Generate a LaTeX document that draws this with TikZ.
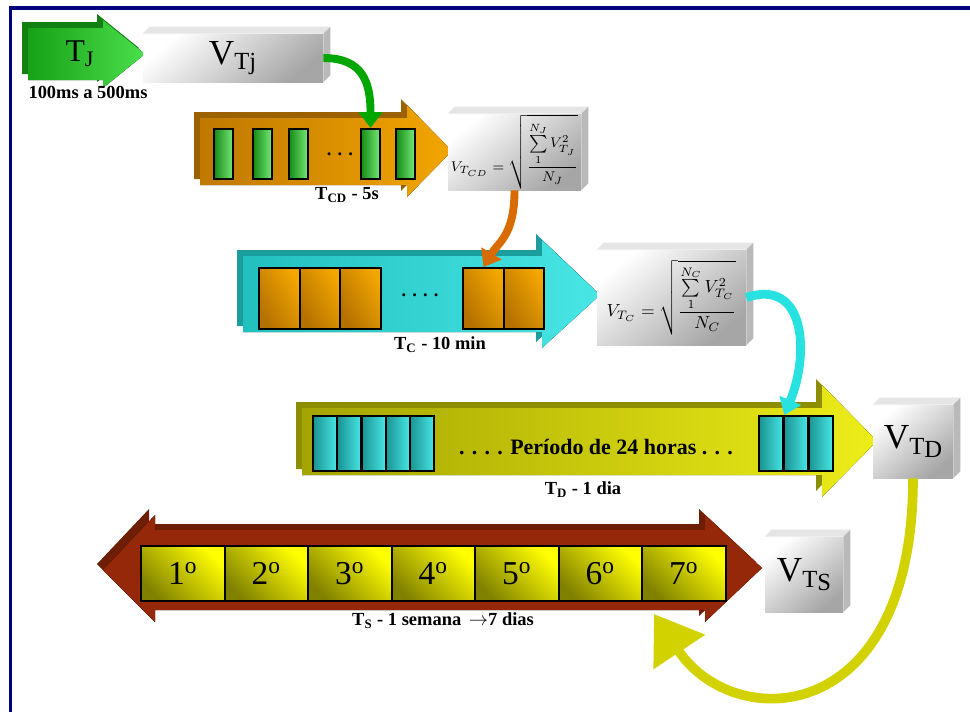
\documentclass[tikz,border=0pt]{standalone}
\usepackage{fontspec}
\setmainfont{Liberation Serif}
\usetikzlibrary{arrows.meta}

\definecolor{frameblue}{RGB}{0,0,128}
\definecolor{jgreen}{RGB}{30,215,30}
\definecolor{cdorange}{RGB}{240,150,0}
\definecolor{ccyan}{RGB}{40,225,225}
\definecolor{dyellow}{RGB}{235,235,0}
\definecolor{sred}{RGB}{185,50,10}
\definecolor{retyellow}{RGB}{210,210,0}

\begin{document}
\begin{tikzpicture}[
  x=0.2mm, y=-0.2mm,
  depth/.style={preaction={fill=#1, transform canvas={shift={(-6,-6)}}}},
  cube/.style 2 args={inner sep=0pt, minimum width=#1*0.2mm, minimum height=#2*0.2mm,
    top color=white, bottom color=gray!70, shading angle=40},
  cell/.style 2 args={draw, line width=1.2pt, inner sep=0pt, anchor=north west,
    minimum width=#1*0.2mm, minimum height=#2*0.2mm},
  tag/.style={font=\bfseries\fontsize{10.5}{12}\selectfont},
  big/.style={font=\fontsize{20}{22}\selectfont},
  flow/.style={line width=4.5pt, -{Triangle[width=13pt,length=9pt]}}
]
  \useasboundingbox (0,0) rectangle (970,711);
  \draw[frameblue, line width=1.8pt] (10.5,720) -- (10.5,8) -- (980,8);

  % time arrows
  \fill[depth=jgreen!60!black, left color=jgreen!75!black, middle color=jgreen, right color=jgreen!80!white]
    (28,28) -- (103,28) -- (103,20) -- (145,54) -- (103,88) -- (103,80) -- (28,80) -- cycle;
  \fill[depth=cdorange!65!black, left color=cdorange!80!black, middle color=cdorange, right color=cdorange!85!yellow]
    (200,118) -- (407,118) -- (407,105) -- (452,151) -- (407,197) -- (407,185) -- (200,185) -- cycle;
  \fill[depth=ccyan!70!black, left color=ccyan!85!black, middle color=ccyan, right color=ccyan!85!white]
    (243,256) -- (542,256) -- (542,240) -- (600,295) -- (542,348) -- (542,332) -- (243,332) -- cycle;
  \fill[depth=dyellow!60!black, left color=dyellow!70!black, middle color=dyellow, right color=dyellow!90!white]
    (302,408) -- (822,408) -- (822,385) -- (877,441) -- (822,497) -- (822,475) -- (302,475) -- cycle;
  \fill[depth=sred!60!black, left color=sred!80!black, middle color=sred!85!orange, right color=sred!80!black]
    (103,570) -- (155,515) -- (155,530) -- (705,530) -- (705,515) -- (762,568) -- (705,622)
    -- (705,610) -- (155,610) -- (155,622) -- cycle;

  % samples inside the arrows
  \foreach \x [count=\i] in {213,252,288,360,395}
    \node[cell={19}{50}, left color=jgreen!65!black, right color=jgreen!60!white] (g\i) at (\x,128) {};
  \foreach \x [count=\i] in {258,298.7,339.3,462,502.5}
    \node[cell={40.7}{61}, top color=cdorange!75!black, bottom color=cdorange!85!yellow, shading angle=120] (o\i) at (\x,267) {};
  \foreach \x [count=\i] in {312,336.2,360.4,384.6,408.8,758,782.7,807.4}
    \node[cell={24.2}{55}, left color=ccyan!65!black, right color=ccyan!85!white] (c\i) at (\x,415) {};
  \foreach \i in {1,...,7}
    \node[cell={83.5}{55}, top color=yellow, bottom color=dyellow!55!black, shading angle=-45,
      font=\fontsize{19}{20}\selectfont] (d\i) at (56.5+83.5*\i,545) {\i\textsuperscript{o}};

  \node[tag] at (340,154) {. . .};
  \node[tag] at (420,295) {. . . .};
  \node[font=\bfseries\fontsize{12.5}{14}\selectfont] (period) at (596,447) {. . . . Período de 24 horas . . .};

  % captions
  \node[font=\fontsize{18}{20}\selectfont] (tj) at (80,54) {T\textsubscript{J}};
  \node[tag] (tjcap) at (88,92) {100ms a 500ms};
  \node[tag] (tcdcap) at (347,195) {T\textsubscript{CD} - 5s};
  \node[tag] (tccap) at (440,345) {T\textsubscript{C} - 10 min};
  \node[tag] (tdcap) at (583,490) {T\textsubscript{D} - 1 dia};
  \node[tag] (tscap) at (443,621) {T\textsubscript{S} - 1 semana \,$\rightarrow$7 dias};

  % value boxes
  \node[cube={180}{48}, big] (vtj) at (233,58) {V\textsubscript{Tj}};
  \node[cube={133}{76}, font=\footnotesize] (vtcd) at (514.5,152)
    {$V_{T_{CD}}=\sqrt{\displaystyle\frac{\sum\limits_{1}^{N_J}V_{T_J}^{2}}{N_J}}$};
  \node[cube={149}{95}, font=\normalsize] (vtc) at (671.5,297.5)
    {$V_{T_C}=\sqrt{\displaystyle\frac{\sum\limits_{1}^{N_C}V_{T_C}^{2}}{N_C}}$};
  \node[cube={80}{73}, big] (vtd) at (913,441.5)
    {V\raisebox{-0.35ex}{\fontsize{14}{14}\selectfont T\raisebox{-0.3ex}{D}}};
  \node[cube={78}{75}, big] (vts) at (804,574.5)
    {V\raisebox{-0.35ex}{\fontsize{14}{14}\selectfont T\raisebox{-0.3ex}{S}}};
  \foreach \b in {vtj,vtcd,vtc,vtd,vts} {
    \fill[gray!20] (\b.north west) -- ++(7,-7) -- ([shift={(7,-7)}]\b.north east) -- (\b.north east) -- cycle;
    \fill[gray!55] (\b.north east) -- ++(7,-7) -- ([shift={(7,-7)}]\b.south east) -- (\b.south east) -- cycle;
  }

  % connectors
  \coordinate (ret) at (654,614);
  \draw[flow, draw=green!65!black] (vtj.east) .. controls +(40,0) and +(0,-45) .. (g4.north);
  \draw[flow, draw=orange!85!black] (vtcd.south) .. controls +(0,45) and +(15,-25) .. (o4.north);
  \draw[flow, draw=ccyan, line width=5pt] (vtc.east) .. controls +(60,-20) and +(25,-60) .. (c6.north east);
  \draw[draw=retyellow, line width=5.5pt, -{Triangle[width=34pt,length=26pt]}]
    (vtd.south) .. controls +(0,250) and +(80,120) .. (ret);
\end{tikzpicture}
\end{document}
